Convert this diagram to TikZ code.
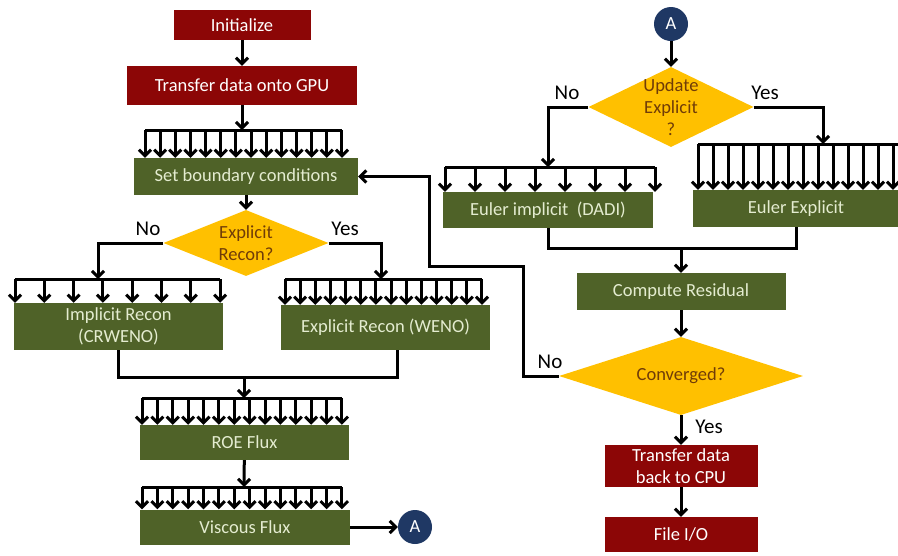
\documentclass[tikz,border=0pt]{standalone}
\usepackage{fontspec}
\setmainfont{Carlito}
\usepackage{tikz}
\usetikzlibrary{arrows.meta,shapes.geometric}
\definecolor{cpured}{RGB}{140,6,6}
\definecolor{gpugreen}{RGB}{79,98,40}
\definecolor{boxtext}{RGB}{228,236,208}
\definecolor{decfill}{RGB}{255,192,0}
\definecolor{dectext}{RGB}{112,60,8}
\definecolor{linkblue}{RGB}{31,56,100}

\begin{document}
\begin{tikzpicture}[x=1pt,y=-1pt,
  line/.style={line width=3pt},
  conn/.style={line width=3pt,-{Straight Barb[length=6pt,width=12pt]}},
  hostbox/.style={fill=cpured,text=white,align=center,inner sep=0pt,font=\fontsize{18.5}{22}\selectfont},
  kernel/.style={fill=gpugreen,text=boxtext,align=center,inner sep=0pt,font=\fontsize{18.5}{22}\selectfont},
  decision/.style={diamond,fill=decfill,inner sep=0pt},
  dectxt/.style={text=dectext,align=center,font=\fontsize{18.5}{22}\selectfont},
  answer/.style={font=\fontsize{21}{24}\selectfont},
  link/.style={circle,fill=linkblue,text=white,minimum size=34pt,inner sep=0pt,font=\fontsize{18.5}{22}\selectfont}]
  \useasboundingbox (0,0) rectangle (898,555);
  % left column
  \node[hostbox,minimum width=137pt,minimum height=30pt] (init) at (242,25) {Initialize};
  \node[hostbox,minimum width=230pt,minimum height=39pt] (gpu) at (242,85.5) {Transfer data onto GPU};
  \node[kernel,minimum width=224pt,minimum height=37pt] (setbc) at (246,176.5) {Set boundary conditions};
  \node[decision,minimum width=165pt,minimum height=66pt] (recon) at (246,243) {};
  \node[dectxt] (recontxt) at (recon) {Explicit\\Recon?};
  \node[kernel,minimum width=209pt,minimum height=47pt] (imp) at (118.5,326.5) {Implicit Recon\\(CRWENO)};
  \node[kernel,minimum width=209pt,minimum height=45pt] (expl) at (385.5,327.5) {Explicit Recon (WENO)};
  \node[kernel,minimum width=209pt,minimum height=35pt] (roe) at (244.5,442.5) {ROE Flux};
  \node[kernel,minimum width=210pt,minimum height=35pt] (visc) at (245,527) {Viscous Flux};
  \node[link] (a1) at (415,527) {A};
  % right column
  \node[link] (a2) at (671,24) {A};
  \node[decision,minimum width=165pt,minimum height=80pt] (upd) at (671,107) {};
  \node[dectxt] (updtxt) at (upd) {Update\\Explicit\\?};
  \node[kernel,minimum width=210pt,minimum height=36pt] (dadi) at (548,210) {Euler implicit\ \ (DADI)};
  \node[kernel,minimum width=206pt,minimum height=37pt] (eexp) at (796,208.5) {Euler Explicit};
  \node[kernel,minimum width=209pt,minimum height=37pt] (resid) at (681,291.5) {Compute Residual};
  \node[decision,minimum width=244pt,minimum height=78pt] (conv) at (681,376) {};
  \node[dectxt] (convtxt) at (conv) {Converged?};
  \node[hostbox,minimum width=153pt,minimum height=42pt] (back) at (681,466) {Transfer data\\back to CPU};
  \node[hostbox,minimum width=153pt,minimum height=35pt] (fio) at (681,534.5) {File I/O};
  % answers
  \node[answer] (no1) at (148,229) {No};
  \node[answer] (yes1) at (345,229) {Yes};
  \node[answer] (no2) at (567,93) {No};
  \node[answer] (yes2) at (765,93) {Yes};
  \node[answer] (no3) at (550,362) {No};
  \node[answer] (yes3) at (709,427) {Yes};
  % bars and joints
  \coordinate (bcbar) at (242,130);
  \coordinate (impbar) at (98,279);
  \coordinate (explbar) at (381,279);
  \coordinate (mrg1) at (244,377);
  \coordinate (roebar) at (244,398);
  \coordinate (viscbar) at (244,487);
  \coordinate (dadibar) at (548,167);
  \coordinate (eexpbar) at (823,144);
  \coordinate (mrg2) at (681,248);
  \coordinate (lp1) at (523,266);
  \coordinate (lp2) at (429,266);
  % left flow
  \draw[conn] (init) -- (gpu);
  \draw[conn] (gpu) -- (bcbar);
  \draw[line] (145,130) -- (342,130);
  \foreach \i in {0,...,13} \draw[conn] (145+15.15*\i,130) -- (145+15.15*\i,0 |- setbc.north);
  \draw[conn] (setbc) -- (recon);
  \draw[conn] (recon.west) -| (impbar);
  \draw[line] (15,279) -- (220,279);
  \foreach \i in {0,...,7} \draw[conn] (15+29.3*\i,279) -- (15+29.3*\i,0 |- imp.north);
  \draw[conn] (recon.east) -| (explbar);
  \draw[line] (285,279) -- (482,279);
  \foreach \i in {0,...,13} \draw[conn] (285+15.15*\i,279) -- (285+15.15*\i,0 |- expl.north);
  \draw[line] (imp.south) |- (mrg1) -| ([xshift=12pt]expl.south);
  \draw[conn] (mrg1) -- (roebar);
  \draw[line] (142,398) -- (342,398);
  \foreach \i in {0,...,13} \draw[conn] (142+15.38*\i,398) -- (142+15.38*\i,0 |- roe.north);
  \draw[conn] (roe) -- (viscbar);
  \draw[line] (142,487) -- (342,487);
  \foreach \i in {0,...,13} \draw[conn] (142+15.38*\i,487) -- (142+15.38*\i,0 |- visc.north);
  \draw[conn] (visc) -- (a1);
  % right flow
  \draw[conn] (a2) -- (upd);
  \draw[conn] (upd.west) -| (dadibar);
  \draw[line] (445,167) -- (655,167);
  \foreach \i in {0,...,7} \draw[conn] (445+30*\i,167) -- (445+30*\i,0 |- dadi.north);
  \draw[conn] (upd.east) -| (eexpbar);
  \draw[line] (698,144) -- (899,144);
  \foreach \i in {0,...,13} \draw[conn] (698+15*\i,144) -- (698+15*\i,0 |- eexp.north);
  \draw[line] (dadi.south) |- (mrg2) -| (eexp.south);
  \draw[conn] (mrg2) -- (resid);
  \draw[conn] (resid) -- (conv);
  \draw[conn] (conv) -- (back);
  \draw[conn] (back) -- (fio);
  \draw[conn] (conv.west) -| (lp1) -- (lp2) |- (setbc.east);
\end{tikzpicture}
\end{document}
